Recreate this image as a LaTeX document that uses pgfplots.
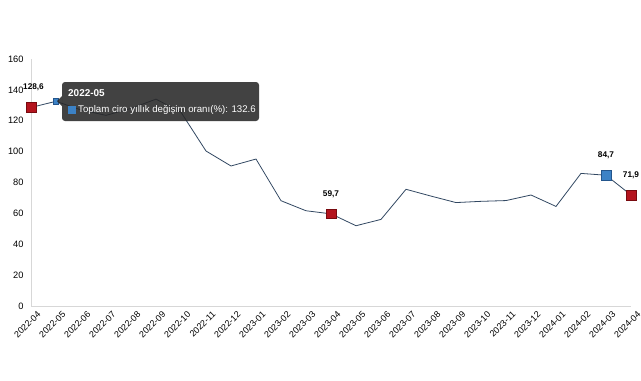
\documentclass[border=0pt]{standalone}
\usepackage{fontspec}
\setmainfont{Liberation Sans}
\usepackage{pgfplots}
\pgfplotsset{compat=1.18}
\definecolor{linec}{RGB}{50,72,98}
\definecolor{redm}{RGB}{180,20,30}
\definecolor{redb}{RGB}{120,10,15}
\definecolor{bluem}{RGB}{60,130,198}
\definecolor{blueb}{RGB}{35,85,140}
\definecolor{axg}{RGB}{215,215,215}
\definecolor{tip}{RGB}{40,40,40}
\begin{document}
\begin{tikzpicture}[x=1bp,y=1bp]
\useasboundingbox (-31,-74) rectangle (610,306);
\begin{axis}[
  at={(0,0)}, anchor=south west,
  scale only axis, width=600bp, height=247bp,
  xmin=0, xmax=24, ymin=0, ymax=160,
  axis lines*=left,
  axis line style={draw=axg, line width=0.8bp},
  major tick length=0pt,
  xtick={0,...,24},
  xticklabels={2022-04,2022-05,2022-06,2022-07,2022-08,2022-09,2022-10,2022-11,2022-12,2023-01,2023-02,2023-03,2023-04,2023-05,2023-06,2023-07,2023-08,2023-09,2023-10,2023-11,2023-12,2024-01,2024-02,2024-03,2024-04},
  ytick={0,20,...,160},
  /pgf/number format/assume math mode=true,
  x tick label style={rotate=45, anchor=north east, font=\fontsize{9}{10}\selectfont, inner sep=1pt, xshift=2bp, yshift=-6bp},
  y tick label style={font=\fontsize{9.3}{10}\selectfont, xshift=-4bp},
  clip=false,
]
\addplot[linec, line width=0.8bp] coordinates {
(0,128.6) (1,132.6) (2,127.0) (3,123.5) (4,128.0) (5,134.0) (6,125.5) (7,100.4) (8,90.7) (9,95.2) (10,68.2) (11,61.7) (12,59.7) (13,52.0) (14,56.1) (15,75.6) (16,71.2) (17,67.0) (18,67.8) (19,68.3) (20,71.9) (21,64.5) (22,85.9) (23,84.7) (24,71.9)
};
\addplot[only marks, mark=square*, mark size=4.8bp, mark options={fill=redm, draw=redb, line width=0.5bp}] coordinates {(0,128.6) (12,59.7) (24,71.9)};
\addplot[only marks, mark=square*, mark size=4.8bp, mark options={fill=bluem, draw=blueb, line width=0.5bp}] coordinates {(23,84.7)};
\addplot[only marks, mark=square*, mark size=2.6bp, mark options={fill=bluem, draw=blueb, line width=0.4bp}] coordinates {(1,132.6)};
\node[font=\bfseries\fontsize{8.3}{9}\selectfont, anchor=south] at (axis cs:0.1,128.6) [yshift=13bp] {128,6};
\node[font=\bfseries\fontsize{8.3}{9}\selectfont, anchor=south] at (axis cs:12,59.7) [yshift=13bp] {59,7};
\node[font=\bfseries\fontsize{8.3}{9}\selectfont, anchor=south] at (axis cs:23,84.7) [yshift=13bp] {84,7};
\node[font=\bfseries\fontsize{8.3}{9}\selectfont, anchor=south] at (axis cs:24,71.9) [yshift=13bp] {71,9};
\end{axis}
% tooltip
\fill[tip, opacity=0.88, rounded corners=3bp] (31,185) rectangle (228,224);
\fill[tip, opacity=0.88] (31,200) -- (26,205) -- (31,210) -- cycle;
\node[anchor=west, text=white, font=\bfseries\fontsize{10}{11}\selectfont, inner sep=0pt] at (37,213) {2022-05};
\fill[bluem] (37,192) rectangle (45,200);
\node[anchor=west, text=white, font=\fontsize{9.7}{10}\selectfont, inner sep=0pt] at (47,196) {Toplam ciro yıllık değişim oranı(\%): 132.6};
\end{tikzpicture}
\end{document}
